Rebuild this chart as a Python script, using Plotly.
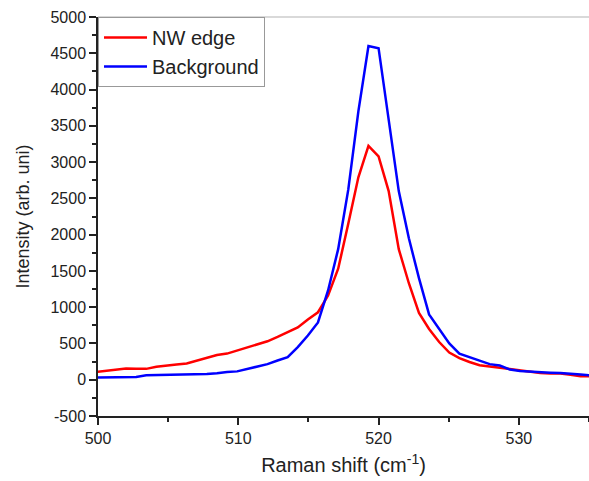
import plotly.graph_objects as go

# Raman shift (cm^-1)
raman_shift = [499.84, 500.56, 501.28, 502.00, 502.72, 503.44, 504.16, 504.88, 505.60, 506.32,
               507.04, 507.76, 508.48, 509.20, 509.92, 510.64, 511.36, 512.08, 512.80, 513.52,
               514.24, 514.96, 515.68, 516.40, 517.12, 517.84, 518.56, 519.28, 520.00, 520.72,
               521.44, 522.16, 522.88, 523.60, 524.32, 525.04, 525.76, 526.48, 527.20, 527.92,
               528.64, 529.36, 530.08, 530.80, 531.52, 532.24, 532.96, 533.68, 534.40, 535.12]

nw_edge = [108, 125, 142, 155, 152, 150, 180, 200, 210, 225,
           260, 295, 340, 360, 405, 445, 490, 530, 590, 660,
           720, 830, 930, 1160, 1530, 2150, 2790, 3225, 3080, 2600,
           1800, 1330, 920, 700, 520, 374, 297, 244, 200, 182,
           164, 148, 124, 106, 94, 86, 86, 69, 48, 48]

background = [30, 30, 32, 35, 38, 60, 62, 60, 62, 68,
              72, 78, 90, 108, 115, 145, 175, 215, 265, 310,
              450, 610, 790, 1230, 1800, 2620, 3700, 4600, 4570, 3600,
              2600, 1950, 1400, 900, 700, 500, 360, 310, 255, 215,
              195, 140, 120, 110, 105, 97, 92, 85, 72, 58]

x_ticks = [500, 510, 520, 530]
x_tick_labels = ["500", "510", "520", "530"]
y_ticks = [-500, 0, 500, 1000, 1500, 2000, 2500, 3000, 3500, 4000, 4500, 5000]
y_tick_labels = ["-500", "0", "500", "1000", "1500", "2000", "2500", "3000", "3500", "4000", "4500", "5000"]

FONT = "Arial, Liberation Sans, sans-serif"
TXT = "#222222"

fig = go.Figure()
fig.add_trace(go.Scatter(x=raman_shift, y=nw_edge, mode="lines", name="NW edge",
                         line=dict(color="#ff0000", width=2.5)))
fig.add_trace(go.Scatter(x=raman_shift, y=background, mode="lines", name="Background",
                         line=dict(color="#0000ff", width=2.5)))

fig.update_layout(
    width=589, height=481,
    margin=dict(l=98, r=0, t=17, b=65),
    paper_bgcolor="white", plot_bgcolor="white",
    font=dict(family=FONT, color=TXT),
    showlegend=True,
    legend=dict(x=0, y=1, xanchor="left", yanchor="top",
                bgcolor="white", bordercolor="#999999", borderwidth=1,
                font=dict(size=20, family=FONT, color=TXT),
                itemwidth=43, tracegroupgap=0),
    xaxis=dict(range=[500, 535], tickmode="array", tickvals=x_ticks, ticktext=x_tick_labels,
               showgrid=False, zeroline=False,
               showline=True, linecolor=TXT, linewidth=1.5,
               ticks="outside", ticklen=7, tickwidth=1.5, tickcolor=TXT,
               tickfont=dict(size=16, family=FONT, color=TXT),
               minor=dict(dtick=5, ticks="outside", ticklen=4, tickwidth=1.5, tickcolor=TXT),
               title=dict(text="Raman shift (cm<sup>-1</sup>)", font=dict(size=20, family=FONT, color=TXT),
                          standoff=12)),
    yaxis=dict(range=[-500, 5000], tickmode="array", tickvals=y_ticks, ticktext=y_tick_labels,
               showgrid=False, zeroline=False,
               showline=True, linecolor=TXT, linewidth=1.5,
               ticks="outside", ticklen=7, tickwidth=1.5, tickcolor=TXT,
               tickfont=dict(size=16, family=FONT, color=TXT),
               minor=dict(dtick=250, ticks="outside", ticklen=4, tickwidth=1.5, tickcolor=TXT),
               title=dict(text="Intensity (arb. uni)", font=dict(size=18, family=FONT, color=TXT),
                          standoff=16)),
    shapes=[dict(type="line", xref="paper", yref="paper", x0=0, x1=1, y0=1, y1=1,
                 line=dict(color="#cccccc", width=1.5))],
)

fig.write_html("out.html")
